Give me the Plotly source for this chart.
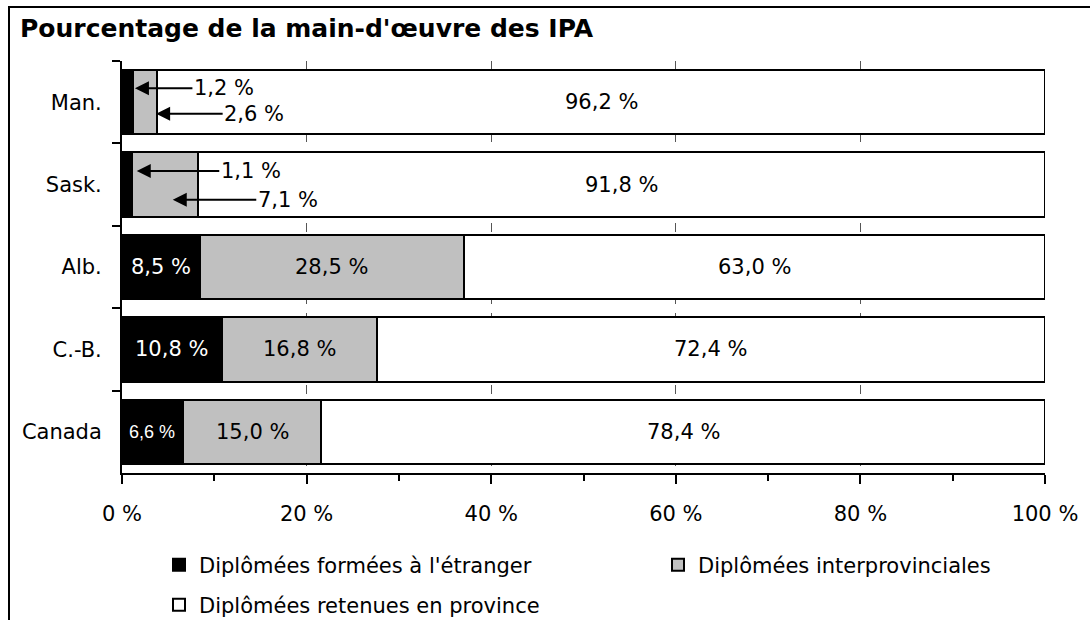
import plotly.graph_objects as go

# ---------------- data ----------------
categories = ["Man.", "Sask.", "Alb.", "C.-B.", "Canada"]
foreign = [1.2, 1.1, 8.5, 10.8, 6.6]          # Diplômées formées à l'étranger
interprov = [2.6, 7.1, 28.5, 16.8, 15.0]      # Diplômées interprovinciales
retained = [96.2, 91.8, 63.0, 72.4, 78.4]     # Diplômées retenues en province
series_names = ["Diplômées formées à l'étranger",
                "Diplômées interprovinciales",
                "Diplômées retenues en province"]
tick_vals = [0, 20, 40, 60, 80, 100]
tick_labels = ["0 %", "20 %", "40 %", "60 %", "80 %", "100 %"]
title_text = "Pourcentage de la main-d'œuvre des IPA"

# ---------------- styling / layout constants ----------------
W, H = 1090, 620
L, R, T, B = 122, 45, 61, 147
PW, PH = W - L - R, H - T - B
FONT = "DejaVu Sans"
colors = ["#000000", "#c0c0c0", "#ffffff"]
text_colors = ["#ffffff", "#000000", "#000000"]
# legend item positions (container pixels: left x, centre y)
legend_pos = [(159, 565), (658, 565), (159, 605)]

series = [foreign, interprov, retained]


def fmt(v):
    return f"{v:.1f}".replace(".", ",") + " %"


fig = go.Figure()
legend_ids = ["legend", "legend2", "legend3"]
for i, (name, vals) in enumerate(zip(series_names, series)):
    fig.add_trace(go.Bar(
        y=categories, x=vals, name=name, orientation="h",
        marker=dict(color=colors[i], line=dict(color="#000000", width=2)),
        legend=legend_ids[i],
        hoverinfo="skip",
    ))

# callouts with arrows for the thin segments: (category idx, series idx, tip x, dy, ax)
callouts = [
    (0, 0, 1.4, -0.17, 89),
    (0, 1, 3.7, 0.14, 98),
    (1, 0, 1.6, -0.165, 114),
    (1, 1, 5.5, 0.185, 115),
]
called = {(c, s) for c, s, *_ in callouts}
small_labels = {(4, 0)}

annotations = []
for ci, cat in enumerate(categories):
    cum = 0.0
    for si, vals in enumerate(series):
        v = vals[ci]
        if (ci, si) not in called:
            small = (ci, si) in small_labels
            annotations.append(dict(
                x=cum + v / 2, y=ci, xref="x", yref="y",
                text=fmt(v),
                showarrow=False,
                font=dict(family="Liberation Sans" if small else FONT,
                          size=18 if small else 21, color=text_colors[si]),
            ))
        cum += v

for ci, si, tipx, dy, ax in callouts:
    annotations.append(dict(
        x=tipx, y=ci + dy, xref="x", yref="y",
        text=fmt(series[si][ci]), showarrow=True,
        ax=ax, ay=0, arrowhead=2, arrowsize=1.4, arrowwidth=2,
        arrowcolor="#000000", standoff=0,
        font=dict(family=FONT, size=21, color="#000000"),
    ))


def px2paper(px, py):
    return (px - L) / PW, (H - B - py) / PH


x0, y0 = px2paper(9, 624)
x1, y1 = px2paper(9, 7)
x2, _ = px2paper(1094, 7)
frame = dict(type="path", xref="paper", yref="paper",
             path=f"M {x0} {y0} L {x1} {y1} L {x2} {y1}",
             line=dict(color="#000000", width=2))

legends = {}
for lid, (lx, ly) in zip(legend_ids, legend_pos):
    legends[lid] = dict(orientation="h", xref="container", yref="container",
                        x=lx / W, y=1 - ly / H, xanchor="left", yanchor="middle",
                        bgcolor="rgba(0,0,0,0)", borderwidth=0,
                        font=dict(family=FONT, size=21, color="#000000"))

fig.update_layout(
    width=W, height=H,
    margin=dict(l=L, r=R, t=T, b=B),
    barmode="stack", bargap=0.22,
    plot_bgcolor="#ffffff", paper_bgcolor="#ffffff",
    font=dict(family=FONT, size=21, color="#000000"),
    title=dict(text="<b>" + title_text + "</b>", xref="container", yref="container",
               x=20 / W, y=1 - 28 / H, xanchor="left", yanchor="middle",
               font=dict(family=FONT, size=25, color="#000000")),
    xaxis=dict(range=[0, 100], tickvals=tick_vals, ticktext=tick_labels,
               showline=True, linecolor="#000000", linewidth=2,
               ticks="outside", ticklen=9, tickwidth=2, tickcolor="#000000",
               ticklabelstandoff=12,
               minor=dict(dtick=10, ticks="outside", ticklen=6, tickwidth=2,
                          tickcolor="#000000", showgrid=False),
               showgrid=True, gridcolor="#555555", gridwidth=1, griddash="dash",
               zeroline=False, automargin=False, fixedrange=True),
    yaxis=dict(autorange="reversed", type="category",
               showline=True, linecolor="#000000", linewidth=2,
               ticks="outside", tickson="boundaries", ticklen=8, tickwidth=2,
               tickcolor="#000000", ticklabelstandoff=14,
               showgrid=False, zeroline=False, automargin=False, fixedrange=True),
    annotations=annotations,
    shapes=[frame],
    showlegend=True,
    **legends,
)

fig.write_html("out.html", config={"displayModeBar": False},
               post_script="document.body.style.margin='0';"
                           "document.body.style.overflow='hidden';")
